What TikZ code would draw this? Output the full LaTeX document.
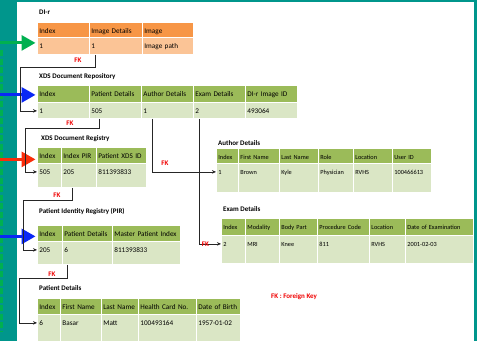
\documentclass[tikz,border=0pt]{standalone}
\usepackage{fontspec}
\setmainfont{Carlito}
\usepackage{tikz}
\usetikzlibrary{arrows.meta, calc}

\definecolor{tealbg}{RGB}{0,150,140}
\definecolor{hdrorange}{RGB}{247,150,70}
\definecolor{datorange}{RGB}{251,196,150}
\definecolor{hdrgreen}{RGB}{155,187,89}
\definecolor{datgreen}{RGB}{218,230,197}
\definecolor{arrgreen}{RGB}{0,176,80}
\definecolor{arrblue}{RGB}{10,40,245}
\definecolor{arrred}{RGB}{250,45,10}
\definecolor{fkred}{RGB}{240,0,0}

\tikzset{
  cell/.style={draw=white, line width=0.8pt, anchor=north west, inner xsep=2pt, inner ysep=3pt, text height=8pt, align=left},
  bigfont/.style={font=\fontsize{7.2}{8}\selectfont},
  smallfont/.style={font=\fontsize{6.3}{7}\selectfont},
  title/.style={anchor=base west, inner sep=0pt, font=\bfseries\fontsize{7}{8}\selectfont},
  fklab/.style={text=fkred, inner sep=0pt, font=\bfseries\fontsize{7}{8}\selectfont},
  fk/.style={black!85, line width=0.6pt, -{Stealth[length=4pt,width=3.5pt]}},
  feed/.style={line width=3pt, -{Triangle[length=14pt,width=15pt]}},
}

\begin{document}
\begin{tikzpicture}[x=1pt,y=-1pt]
        \useasboundingbox (0,0) rectangle (477,341);
        \fill[tealbg] (0,0) rectangle (477,341);
        \fill[white] (17,1.7) rectangle (473.5,341);
        \draw[arrgreen, line width=3.3pt, dash pattern=on 6pt off 2.5pt] (1.7,50) -- (1.7,332);

        % DI-r
        \node[title] (dirtitle) at (39,14.5) {DI-r};
        \foreach \x/\w/\hd/\dt [count=\i] in {37/52/Index/1, 89/53/Image Details/1, 142/51/Image/Image path} {
            \pgfmathsetmacro\tw{\w-4}
            \node[cell, bigfont, fill=hdrorange, text width=\tw pt, text depth=1pt] (dirh\i) at (\x,22) {\hd};
            \node[cell, bigfont, fill=datorange, text width=\tw pt, text depth=3pt] (dird\i) at (\x,37) {\dt};
        }

        % XDS Document Repository
        \node[title] (repotitle) at (39,78.5) {XDS Document Repository};
        \foreach \x/\w/\hd/\dt [count=\i] in {37/52/Index/1, 89/52/Patient Details/505, 141/52/Author Details/1, 193/52/Exam Details/2, 245/52/DI-r Image ID/493064} {
            \pgfmathsetmacro\tw{\w-4}
            \node[cell, bigfont, fill=hdrgreen, text width=\tw pt, text depth=3pt] (repoh\i) at (\x,85) {\hd};
            \node[cell, bigfont, fill=datgreen, text width=\tw pt, text depth=2pt] (repod\i) at (\x,102) {\dt};
        }

        % XDS Document Registry
        \node[title] (regtitle) at (41,140.5) {XDS Document Registry};
        \foreach \x/\w/\hd/\dt [count=\i] in {37/24/Index/505, 61/35/Index PIR/205, 96/50/Patient XDS ID/811393833} {
            \pgfmathsetmacro\tw{\w-4}
            \node[cell, bigfont, fill=hdrgreen, text width=\tw pt, text depth=2pt] (regh\i) at (\x,147) {\hd};
            \node[cell, bigfont, fill=datgreen, text width=\tw pt, text depth=10pt] (regd\i) at (\x,163) {\dt};
        }

        % Patient Identity Registry
        \node[title] (pirtitle) at (39,213.5) {Patient Identity Registry (PIR)};
        \foreach \x/\w/\hd/\dt [count=\i] in {37/25/Index/205, 62/50/Patient Details/6, 112/68/Master Patient Index/811393833} {
            \pgfmathsetmacro\tw{\w-4}
            \node[cell, bigfont, fill=hdrgreen, text width=\tw pt, text depth=2pt] (pirh\i) at (\x,225) {\hd};
            \node[cell, bigfont, fill=datgreen, text width=\tw pt, text depth=9pt] (pird\i) at (\x,241) {\dt};
        }

        % Patient Details
        \node[title] (pattitle) at (39,290.5) {Patient Details};
        \foreach \x/\w/\hd/\dt [count=\i] in {37/23/Index/6, 60/41/First Name/Basar, 101/37/Last Name/Matt, 138/58/Health Card No./100493164, 196/44/Date of Birth/1957-01-02} {
            \pgfmathsetmacro\tw{\w-4}
            \node[cell, bigfont, fill=hdrgreen, text width=\tw pt, text depth=2pt] (path\i) at (\x,298) {\hd};
            \node[cell, bigfont, fill=datgreen, text width=\tw pt, text depth=13pt] (patd\i) at (\x,314) {\dt};
        }

        % Author Details
        \node[title] (authtitle) at (218,145.5) {Author Details};
        \foreach \x/\w/\hd/\dt [count=\i] in {216/22/Index/1, 238/41/First Name/Brown, 279/39/Last Name/Kyle, 318/35/Role/Physician, 353/39/Location/RVHS, 392/39/User ID/100466613} {
            \pgfmathsetmacro\tw{\w-4}
            \node[cell, smallfont, fill=hdrgreen, text width=\tw pt, text depth=1pt] (authh\i) at (\x,148) {\hd};
            \node[cell, smallfont, fill=datgreen, text width=\tw pt, text depth=15pt] (authd\i) at (\x,163) {\dt};
        }

        % Exam Details
        \node[title] (examtitle) at (223,211.5) {Exam Details};
        \foreach \x/\w/\hd/\dt [count=\i] in {221/24/Index/2, 245/34/Modality/MRI, 279/38/Body Part/Knee, 317/52/Procedure Code/811, 369/36/Location/RVHS, 405/68/Date of Examination/2001-02-03} {
            \pgfmathsetmacro\tw{\w-4}
            \node[cell, smallfont, fill=hdrgreen, text width=\tw pt, text depth=3pt] (examh\i) at (\x,218) {\hd};
            \node[cell, smallfont, fill=datgreen, text width=\tw pt, text depth=14pt] (examd\i) at (\x,235) {\dt};
        }

        % feeds from the left
        \coordinate (lane) at (0,0);
        \coordinate (in1) at ([xshift=-1.5pt,yshift=3pt]dird1.west);
        \coordinate (in2) at ([xshift=-1.5pt,yshift=-1pt]repoh1.west);
        \coordinate (in3) at ([xshift=-1.5pt,yshift=-4pt]regh1.west);
        \coordinate (in4) at ([xshift=-1.5pt,yshift=-3pt]pirh1.west);
        \draw[feed, arrgreen] (lane |- in1) -- (in1);
        \draw[feed, arrblue] (lane |- in2) -- (in2);
        \draw[feed, arrred] (lane |- in3) -- (in3);
        \draw[feed, arrblue] (lane |- in4) -- (in4);

        % foreign keys
        \coordinate (c1) at (20,67);
        \coordinate (c2) at (25,128);
        \coordinate (c5) at (23,200);
        \coordinate (c6) at (19,278);
        \draw[fk] ([xshift=6pt]dird2.south west) |- (c1) |- ([yshift=2.5pt]repod1.base west);
        \draw[fk] ([xshift=10pt]repod2.south west) |- (c2) |- ([yshift=2.5pt]regd1.base west);
        \draw[fk] ([xshift=11pt]repod3.south west) |- ([yshift=2.5pt]authd1.base west);
        \draw[fk] ([xshift=6pt]repod4.south west) |- ([yshift=2.5pt]examd1.base west);
        \draw[fk] ([xshift=11pt]regd2.south west) |- (c5) |- ([yshift=2.5pt]pird1.base west);
        \draw[fk] ([xshift=5pt]pird2.south west) |- (c6) |- ([yshift=2.5pt]patd1.base west);

        \node[fklab] (fklab1) at (78,60) {FK};
        \node[fklab] (fklab2) at (70,123) {FK};
        \node[fklab] (fklab3) at (165,163) {FK};
        \node[fklab] (fklab4) at (205.5,244) {FK};
        \node[fklab] (fklab5) at (57,195) {FK};
        \node[fklab] (fklab6) at (52,274) {FK};
        \node[fklab, anchor=west] (fkkey) at (271,297) {FK : Foreign Key};
    \end{tikzpicture}
\end{document}
